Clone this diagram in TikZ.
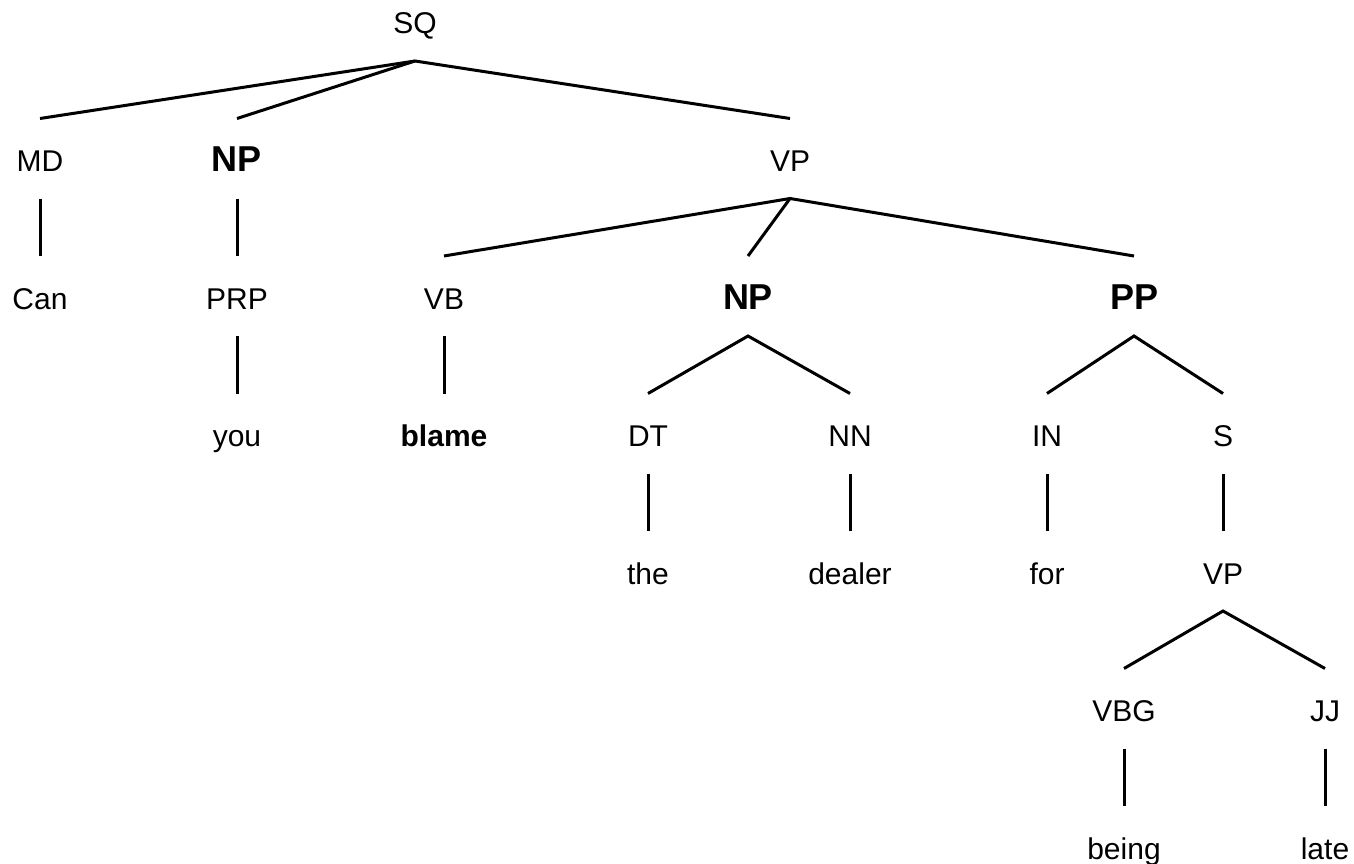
\documentclass[tikz,border=0pt]{standalone}
\usepackage{fontspec}
\setmainfont{Liberation Sans}
\begin{document}
\begin{tikzpicture}[x=1pt,y=-1pt,
  lbl/.style={anchor=base,inner sep=0pt,outer sep=0pt,
    text height=53pt,text depth=27pt,
    font=\fontsize{30}{35}\selectfont},
  phrase/.style={lbl,font=\fontsize{36}{41}\selectfont\bfseries},
  word/.style={lbl,font=\fontsize{30}{35}\selectfont\bfseries},
  edge/.style={line width=3pt,line cap=butt,line join=miter}]
\useasboundingbox (0,0) rectangle (1354,864);

% row 0
\node[lbl] (sq) at (415,34) {SQ};
% row 1
\node[lbl] (md) at (40,171.5) {MD};
\node[phrase] (np1) at (237,171.5) {NP};
\node[lbl] (vp1) at (790,171.5) {VP};
% row 2
\node[lbl] (can) at (40,309) {Can};
\node[lbl] (prp) at (237,309) {PRP};
\node[lbl] (vb) at (444,309) {VB};
\node[phrase] (np2) at (748,309) {NP};
\node[phrase] (pp) at (1134,309) {PP};
% row 3
\node[lbl] (you) at (237,446.5) {you};
\node[word] (blame) at (444,446.5) {blame};
\node[lbl] (dt) at (648,446.5) {DT};
\node[lbl] (nn) at (850,446.5) {NN};
\node[lbl] (in) at (1047,446.5) {IN};
\node[lbl] (s) at (1223,446.5) {S};
% row 4
\node[lbl] (the) at (648,584) {the};
\node[lbl] (dealer) at (850,584) {dealer};
\node[lbl] (for) at (1047,584) {for};
\node[lbl] (vp2) at (1223,584) {VP};
% row 5
\node[lbl] (vbg) at (1124,721.5) {VBG};
\node[lbl] (jj) at (1325,721.5) {JJ};
% row 6
\node[lbl] (being) at (1124,859) {being};
\node[lbl] (late) at (1325,859) {late};

% branches
\draw[edge] (md.north) -- (sq.south) -- (vp1.north);
\draw[edge] (sq.south) -- (np1.north);
\draw[edge] (md.south) -- (can.north);
\draw[edge] (np1.south) -- (prp.north);
\draw[edge] (prp.south) -- (you.north);
\draw[edge] (vb.north) -- (vp1.south) -- (pp.north);
\draw[edge] (vp1.south) -- (np2.north);
\draw[edge] (vb.south) -- (blame.north);
\draw[edge] (dt.north) -- (np2.south) -- (nn.north);
\draw[edge] (dt.south) -- (the.north);
\draw[edge] (nn.south) -- (dealer.north);
\draw[edge] (in.north) -- (pp.south) -- (s.north);
\draw[edge] (in.south) -- (for.north);
\draw[edge] (s.south) -- (vp2.north);
\draw[edge] (vbg.north) -- (vp2.south) -- (jj.north);
\draw[edge] (vbg.south) -- (being.north);
\draw[edge] (jj.south) -- (late.north);
\end{tikzpicture}
\end{document}
